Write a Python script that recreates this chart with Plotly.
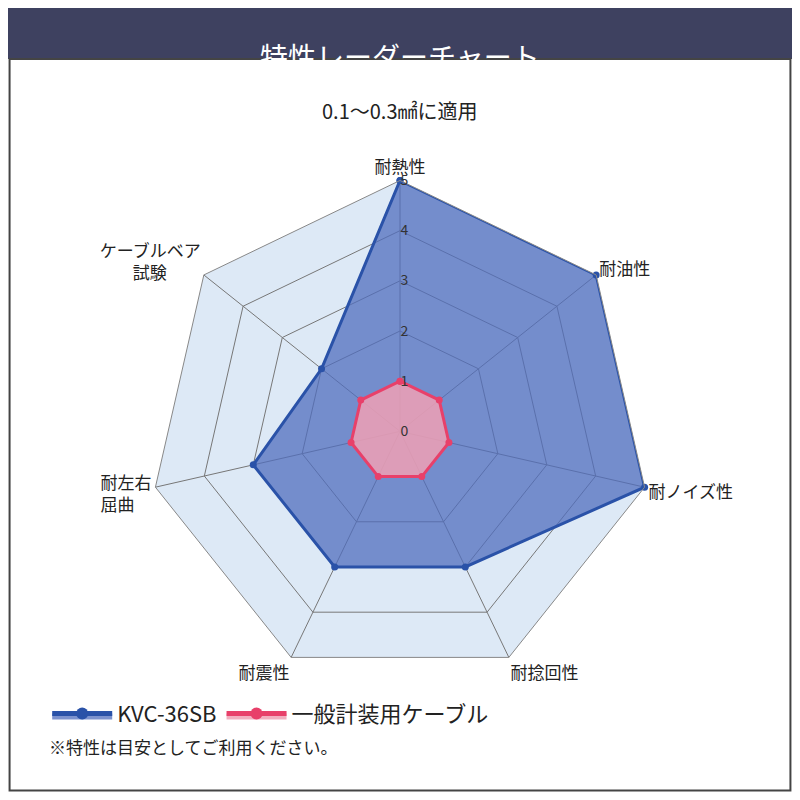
import plotly.graph_objects as go

categories = ["耐熱性", "耐油性", "耐ノイズ性", "耐捻回性", "耐震性", "耐左右<br>屈曲　", "ケーブルベア<br>試験　　"]
kvc_values = [5, 5, 5, 3, 3, 3, 2]
general_values = [1, 1, 1, 1, 1, 1, 1]
tick_vals = [0, 1, 2, 3, 4, 5]

fig = go.Figure()
fig.add_trace(go.Scatterpolar(
    r=kvc_values + kvc_values[:1], theta=categories + categories[:1],
    fill="toself", name="KVC-36SB", mode="lines+markers",
    line=dict(color="#2a52a8", width=3), marker=dict(size=7, color="#2a52a8"),
    fillcolor="rgba(80,110,190,0.75)"))
fig.add_trace(go.Scatterpolar(
    r=general_values + general_values[:1], theta=categories + categories[:1],
    fill="toself", name="一般計装用ケーブル", mode="lines+markers",
    line=dict(color="#e8406a", width=3), marker=dict(size=7, color="#e8406a"),
    fillcolor="rgba(240,160,180,0.85)"))

fig.update_layout(
    width=784, height=784,
    margin=dict(l=0, r=0, t=0, b=0),
    paper_bgcolor="white",
    font=dict(family="Noto Sans CJK JP", size=17, color="#222"),
    polar=dict(
        domain=dict(x=[0.18, 0.82], y=[0.14, 0.78]),
        gridshape="linear",
        bgcolor="#dde9f6",
        angularaxis=dict(direction="clockwise", rotation=90, linecolor="#888",
                         gridcolor="#777", tickfont=dict(size=17)),
        radialaxis=dict(range=[0, 5], tickvals=tick_vals, angle=90, tickangle=90,
                        showline=False, gridcolor="#777", tickfont=dict(size=14, color="#333")),
    ),
    legend=dict(orientation="h", x=0.05, y=0.1, xanchor="left", yanchor="middle",
                font=dict(size=22), itemwidth=60, itemsizing="constant"),
    shapes=[
        dict(type="rect", xref="paper", yref="paper", x0=0, x1=1, y0=0.935, y1=1,
             fillcolor="#3e4160", line=dict(width=0), layer="below"),
        dict(type="rect", xref="paper", yref="paper", x0=0.002, x1=0.998, y0=0.002, y1=0.935,
             line=dict(color="#444", width=2), layer="below"),
    ],
    annotations=[
        dict(text="特性レーダーチャート", x=0.5, y=0.967, xref="paper", yref="paper",
             showarrow=False, font=dict(size=28, color="white")),
        dict(text="0.1〜0.3㎟に適用", x=0.5, y=0.89, xref="paper", yref="paper",
             showarrow=False, font=dict(size=20)),
        dict(text="※特性は目安としてご利用ください。", x=0.05, y=0.04, xref="paper", yref="paper",
             xanchor="left", showarrow=False, font=dict(size=17)),
    ],
)

fig.write_html("out.html")
